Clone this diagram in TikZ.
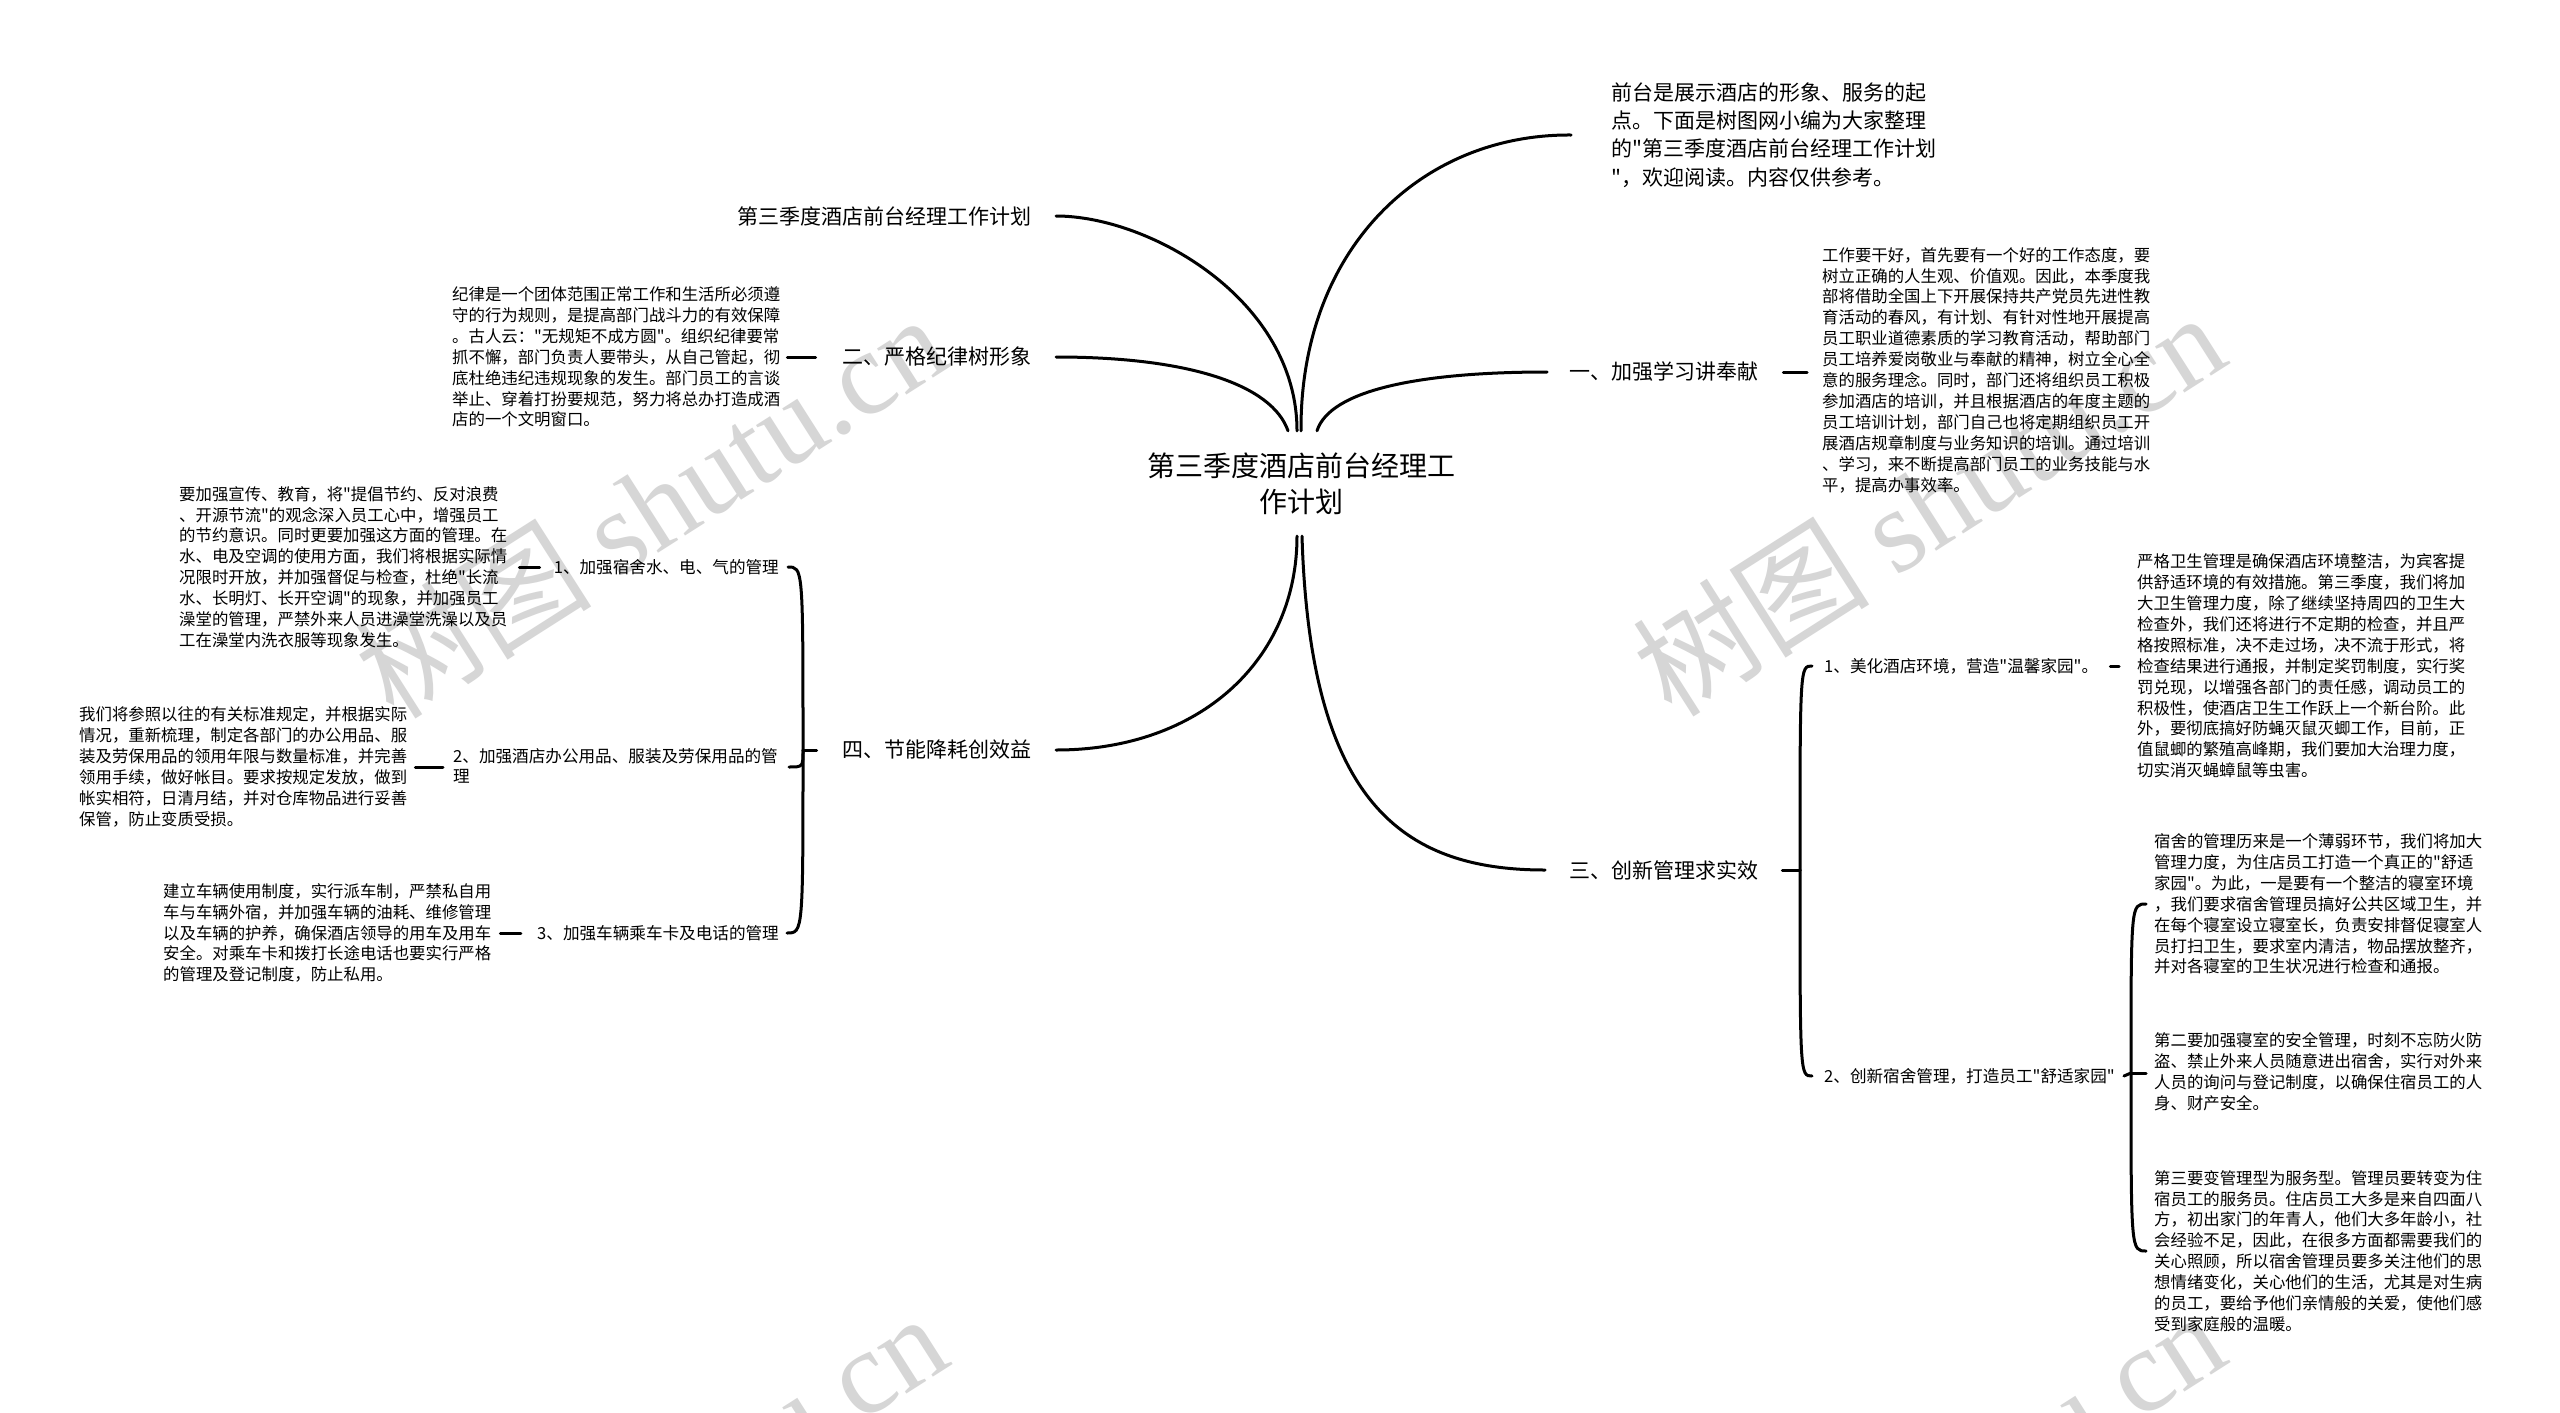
\documentclass[tikz,border=0pt]{standalone}
\usepackage{fontspec}
\setmainfont{Noto Sans CJK SC}[Ligatures=TeXOff]
\newfontfamily\wmlatin{Liberation Serif}[Ligatures=TeXOff]
\tikzset{
  conn/.style={line width=3pt, line cap=round},
  lvlone/.style={font=\fontsize{21}{28.3}\selectfont, inner sep=0pt},
  bodytext/.style={font=\fontsize{16.4}{20.9}\selectfont, inner sep=0pt, align=left},
  lvlthree/.style={font=\fontsize{16.6}{20}\selectfont, inner sep=0pt, align=left},
  wmark/.style={text=black!16, font=\fontsize{119}{122}\selectfont, rotate=32.5, inner sep=0pt}
}
\begin{document}
\begin{tikzpicture}[x=1pt,y=-1pt]
\useasboundingbox (0,0) rectangle (2560,1413);
\fill[white] (0,0) rectangle (2560,1413);
% watermarks
\begin{scope}
\clip (0,0) rectangle (2560,1413);
\node[wmark] (w1) at (650,505) {树图 {\wmlatin shutu.cn}};
\node[wmark] (w2) at (1928,503) {树图 {\wmlatin shutu.cn}};
\node[wmark] (w3) at (650,1504) {树图 {\wmlatin shutu.cn}};
\node[wmark] (w4) at (1928,1502) {树图 {\wmlatin shutu.cn}};
\end{scope}

% central node
\node[font=\fontsize{28}{36}\selectfont, align=center, minimum height=105pt, inner sep=0pt] (c) at (1301,483.5) {第三季度酒店前台经理工\\作计划};

% level one
\node[lvlone, anchor=east] (t0) at (1032,216) {第三季度酒店前台经理工作计划};
\node[lvlone, anchor=east] (l2) at (1032,357) {二、严格纪律树形象};
\node[lvlone, anchor=east] (l4) at (1032,750) {四、节能降耗创效益};
\node[lvlone, anchor=west] (l1) at (1569,372) {一、加强学习讲奉献};
\node[lvlone, anchor=west] (l3) at (1569,870) {三、创新管理求实效};
\node[lvlone, anchor=west, align=left] (p0) at (1611,135) {前台是展示酒店的形象、服务的起\\点。下面是树图网小编为大家整理\\的"第三季度酒店前台经理工作计划\\"，欢迎阅读。内容仅供参考。};

% main curves
\draw[conn] ([xshift=-4pt]c.north) .. controls (1297,300) and (1150,216) .. ([xshift=24pt]t0.east);
\draw[conn] ([xshift=-13pt]c.north) .. controls (1272,385) and (1190,357) .. ([xshift=24pt]l2.east);
\draw[conn] ([xshift=-4pt]c.south) .. controls (1297,660) and (1200,750) .. ([xshift=24pt]l4.east);
\draw[conn] (c.north) .. controls (1300,250) and (1420,134) .. ([xshift=-40pt]p0.west);
\draw[conn] ([xshift=16pt]c.north) .. controls (1330,390) and (1420,372) .. ([xshift=-22pt]l1.west);
\draw[conn] ([xshift=1pt]c.south) .. controls (1310,800) and (1400,870) .. ([xshift=-24pt]l3.west);

% branch one
\node[bodytext, anchor=west] (p1) at (1822,370) {工作要干好，首先要有一个好的工作态度，要\\树立正确的人生观、价值观。因此，本季度我\\部将借助全国上下开展保持共产党员先进性教\\育活动的春风，有计划、有针对性地开展提高\\员工职业道德素质的学习教育活动，帮助部门\\员工培养爱岗敬业与奉献的精神，树立全心全\\意的服务理念。同时，部门还将组织员工积极\\参加酒店的培训，并且根据酒店的年度主题的\\员工培训计划，部门自己也将定期组织员工开\\展酒店规章制度与业务知识的培训。通过培训\\、学习，来不断提高部门员工的业务技能与水\\平，提高办事效率。};
\draw[conn] ([xshift=25pt]l1.east) -- ([xshift=-15pt]p1.west |- l1.east);

% branch two
\node[bodytext, anchor=west] (p2) at (452,357) {纪律是一个团体范围正常工作和生活所必须遵\\守的行为规则，是提高部门战斗力的有效保障\\。古人云："无规矩不成方圆"。组织纪律要常\\抓不懈，部门负责人要带头，从自己管起，彻\\底杜绝违纪违规现象的发生。部门员工的言谈\\举止、穿着打扮要规范，努力将总办打造成酒\\店的一个文明窗口。};
\draw[conn] ([xshift=-27pt]l2.west) -- ([xshift=7pt]p2.east);

% branch three
\coordinate (b3) at (1800,870);
\draw[conn] ([xshift=24pt]l3.east) -- (b3);
\node[lvlthree, anchor=west] (s31) at (1824,666) {1、美化酒店环境，营造"温馨家园"。};
\node[lvlthree, anchor=west] (s32) at (1824,1076) {2、创新宿舍管理，打造员工"舒适家园"};
\draw[conn] (b3) .. controls (1800,666) .. ([xshift=-12pt]s31.west);
\draw[conn] (b3) .. controls (1800,1076) .. ([xshift=-12pt]s32.west);
\node[bodytext, anchor=west] (p31) at (2137,666) {严格卫生管理是确保酒店环境整洁，为宾客提\\供舒适环境的有效措施。第三季度，我们将加\\大卫生管理力度，除了继续坚持周四的卫生大\\检查外，我们还将进行不定期的检查，并且严\\格按照标准，决不走过场，决不流于形式，将\\检查结果进行通报，并制定奖罚制度，实行奖\\罚兑现，以增强各部门的责任感，调动员工的\\积极性，使酒店卫生工作跃上一个新台阶。此\\外，要彻底搞好防蝇灭鼠灭蝍工作，目前，正\\值鼠蝍的繁殖高峰期，我们要加大治理力度，\\切实消灭蝇蟑鼠等虫害。};
\draw[conn] ([xshift=12pt]s31.east) -- ([xshift=-18pt]p31.west);
\coordinate (b32) at (2131,1073);
\draw[conn] ([xshift=9pt]s32.east) -- (b32);
\node[bodytext, anchor=west] (p321) at (2154,904) {宿舍的管理历来是一个薄弱环节，我们将加大\\管理力度，为住店员工打造一个真正的"舒适\\家园"。为此，一是要有一个整洁的寝室环境\\，我们要求宿舍管理员搞好公共区域卫生，并\\在每个寝室设立寝室长，负责安排督促寝室人\\员打扫卫生，要求室内清洁，物品摆放整齐，\\并对各寝室的卫生状况进行检查和通报。};
\node[bodytext, anchor=west] (p322) at (2154,1072) {第二要加强寝室的安全管理，时刻不忘防火防\\盗、禁止外来人员随意进出宿舍，实行对外来\\人员的询问与登记制度，以确保住宿员工的人\\身、财产安全。};
\node[bodytext, anchor=west] (p323) at (2154,1251) {第三要变管理型为服务型。管理员要转变为住\\宿员工的服务员。住店员工大多是来自四面八\\方，初出家门的年青人，他们大多年龄小，社\\会经验不足，因此，在很多方面都需要我们的\\关心照顾，所以宿舍管理员要多关注他们的思\\想情绪变化，关心他们的生活，尤其是对生病\\的员工，要给予他们亲情般的关爱，使他们感\\受到家庭般的温暖。};
\draw[conn] (b32) .. controls (2131,904) .. ([xshift=-8pt]p321.west);
\draw[conn] (b32) -- ([xshift=-8pt]p322.west |- b32);
\draw[conn] (b32) .. controls (2131,1251) .. ([xshift=-8pt]p323.west);

% branch four
\coordinate (b4) at (803,750);
\coordinate (m42) at (789,767);
\draw[conn] ([xshift=-26pt]l4.west) -- (b4);
\node[lvlthree, anchor=east] (s41) at (779,567) {1、加强宿舍水、电、气的管理};
\node[lvlthree, anchor=north west, font=\fontsize{16.6}{20.5}\selectfont] (s42) at (453,748) {2、加强酒店办公用品、服装及劳保用品的管\\理};
\node[lvlthree, anchor=east] (s43) at (779,933) {3、加强车辆乘车卡及电话的管理};
\draw[conn] (b4) .. controls (803,567) .. ([xshift=9pt]s41.east);
\draw[conn] (b4) .. controls (803,767) .. (m42);
\draw[conn] (b4) .. controls (803,933) .. ([xshift=8pt]s43.east);
\node[bodytext, anchor=west] (p41) at (179,567) {要加强宣传、教育，将"提倡节约、反对浪费\\、开源节流"的观念深入员工心中，增强员工\\的节约意识。同时更要加强这方面的管理。在\\水、电及空调的使用方面，我们将根据实际情\\况限时开放，并加强督促与检查，杜绝"长流\\水、长明灯、长开空调"的现象，并加强员工\\澡堂的管理，严禁外来人员进澡堂洗澡以及员\\工在澡堂内洗衣服等现象发生。};
\node[bodytext, anchor=west] (p42) at (79,767) {我们将参照以往的有关标准规定，并根据实际\\情况，重新梳理，制定各部门的办公用品、服\\装及劳保用品的领用年限与数量标准，并完善\\领用手续，做好帐目。要求按规定发放，做到\\帐实相符，日清月结，并对仓库物品进行妥善\\保管，防止变质受损。};
\node[bodytext, anchor=west] (p43) at (163,933) {建立车辆使用制度，实行派车制，严禁私自用\\车与车辆外宿，并加强车辆的油耗、维修管理\\以及车辆的护养，确保酒店领导的用车及用车\\安全。对乘车卡和拨打长途电话也要实行严格\\的管理及登记制度，防止私用。};
\draw[conn] ([xshift=-14pt]s41.west) -- ([xshift=12pt]p41.east |- s41.west);
\draw[conn] ([xshift=-10pt]s42.west |- p42.east) -- ([xshift=8pt]p42.east);
\draw[conn] ([xshift=-16pt]s43.west) -- ([xshift=9pt]p43.east |- s43.west);
\end{tikzpicture}
\end{document}
